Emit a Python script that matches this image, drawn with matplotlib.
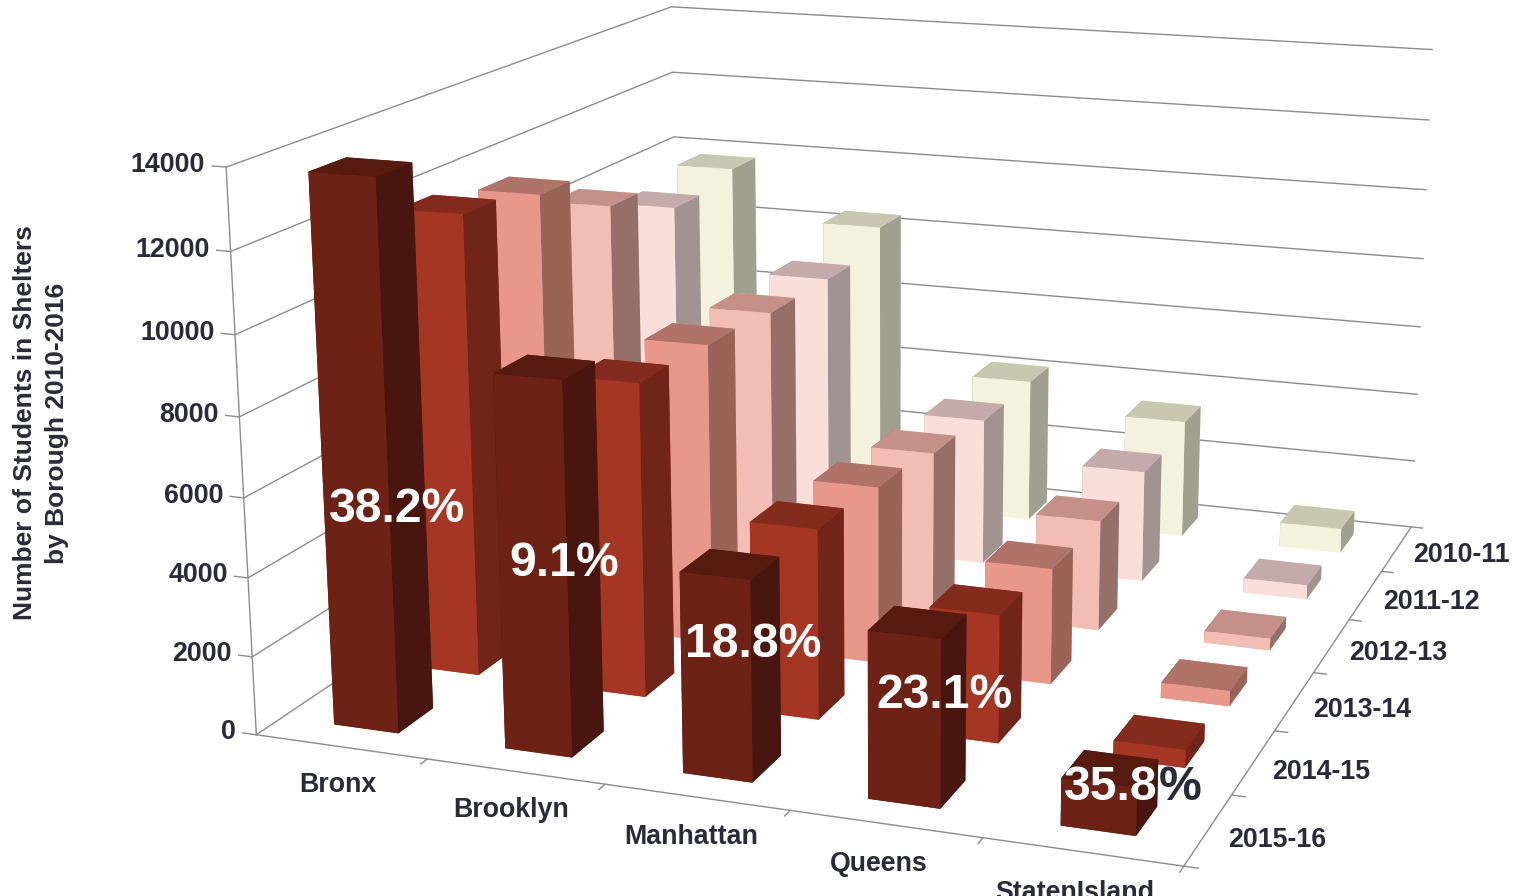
import matplotlib
matplotlib.use("Agg")
import matplotlib.pyplot as plt
from mpl_toolkits.mplot3d import Axes3D

plt.rcParams['font.family'] = ['Liberation Sans', 'DejaVu Sans']

boroughs = ["Bronx", "Brooklyn", "Manhattan", "Queens", "StatenIsland"]
years = ["2015-16", "2014-15", "2013-14", "2012-13", "2011-12", "2010-11"]
y_ticks = [0, 2000, 4000, 6000, 8000, 10000, 12000, 14000]

v_2015 = [13750, 9300, 4975, 4100, 1150]
v_2014 = [11980, 8120, 4890, 3250, 450]
v_2013 = [11610, 8020, 4700, 3050, 400]
v_2012 = [10430, 7850, 4400, 3010, 320]
v_2011 = [9510, 7810, 4150, 3130, 400]
v_2010 = [9800, 8390, 4160, 3400, 700]
values = [v_2015, v_2014, v_2013, v_2012, v_2011, v_2010]

front = ["#6E2216", "#A53624", "#E8988A", "#F2BDB5", "#F9DEDA", "#F3F2DC"]
side = ["#48160E", "#702518", "#9A6358", "#947068", "#A09390", "#A0A090"]
top = ["#561A10", "#832B1C", "#B0736A", "#C49088", "#C4AAA8", "#C8C8B0"]
text_col = "#2A2A38"
grid = "#8c8c8c"

fig = plt.figure(figsize=(15.14, 8.96), dpi=100)
# 3d axes keep a square box, so make it bigger than the figure
ax = fig.add_axes([109 / 1514, (896 - 1514) / 2 / 896 + 60 / 896, 1, 1514 / 896], projection='3d')
ax.set_proj_type('persp', focal_length=0.4)
ax.view_init(elev=15, azim=-70.2)
ax.set_box_aspect((1.165, 1.30, 0.705), zoom=0.919)
ax.set_xlim(0, 5)
ax.set_ylim(0, 6)
ax.set_zlim(0, 14000)
ax.set_axis_off()
ax.computed_zorder = False

for z in y_ticks:
    ax.plot([-0.08, 0, 0, 5], [0, 0, 6, 6], [z, z, z, z], color=grid, lw=1, zorder=1)
ax.plot([0, 0], [0, 0], [0, 14000], color=grid, lw=1, zorder=1)
ax.plot([0, 5, 5], [0, 0, 6], [0, 0, 0], color=grid, lw=1, zorder=1)
for i in range(1, 6):
    ax.plot([i, i], [0, -0.08], [0, 0], color=grid, lw=1, zorder=1)
for j in range(0, 7):
    ax.plot([5, 5.07], [j, j], [0, 0], color=grid, lw=1, zorder=1)

w = 0.38
d = 0.42
order = 2
for j in range(5, -1, -1):
    for i in range(5):
        # bottom, top, -y, +y, -x, +x
        cols = [front[j], top[j], front[j], front[j], side[j], side[j]]
        ax.bar3d(i + 0.31, j + 0.29, 0, w, d, values[j][i], color=cols,
                 shade=False, zorder=order)
        order += 1

for z in y_ticks:
    ax.text(-0.12, 0, z, str(z), ha='right', va='center', fontsize=19.3,
            fontweight='bold', color=text_col)
for i, b in enumerate(boroughs):
    ax.text(i * 0.965 + 0.74, -0.5, 0, b, ha='center', va='center', fontsize=19.3,
            fontweight='bold', color=text_col)
for j, yr in enumerate(years):
    ax.text(5.12, j + 0.4, 0, yr, ha='left', va='center', fontsize=19.3,
            fontweight='bold', color=text_col)

fig.text(397 / 1514, 1 - 509 / 896, "38.2%", color="white", fontsize=34.7, fontweight='bold', ha='center', va='center')
fig.text(564 / 1514, 1 - 563 / 896, "9.1%", color="white", fontsize=34.7, fontweight='bold', ha='center', va='center')
fig.text(753 / 1514, 1 - 644 / 896, "18.8%", color="white", fontsize=34.7, fontweight='bold', ha='center', va='center')
fig.text(945 / 1514, 1 - 695 / 896, "23.1%", color="white", fontsize=34.7, fontweight='bold', ha='center', va='center')
fig.text(1111 / 1514, 1 - 787 / 896, "35.8", color="white", fontsize=34.7, fontweight='bold', ha='center', va='center', zorder=5)
fig.text(1159 / 1514, 1 - 787 / 896, "%", color=text_col, fontsize=34.7, fontweight='bold', ha='left', va='center', zorder=5)

fig.text(25 / 1514, 1 - 423 / 896, "Number of Students in Shelters", rotation=90,
         fontsize=19, fontweight='bold', color=text_col, ha='center', va='center')
fig.text(57 / 1514, 1 - 423 / 896, "by Borough 2010-2016", rotation=90,
         fontsize=19, fontweight='bold', color=text_col, ha='center', va='center')

fig.savefig("out.png", dpi=100)
